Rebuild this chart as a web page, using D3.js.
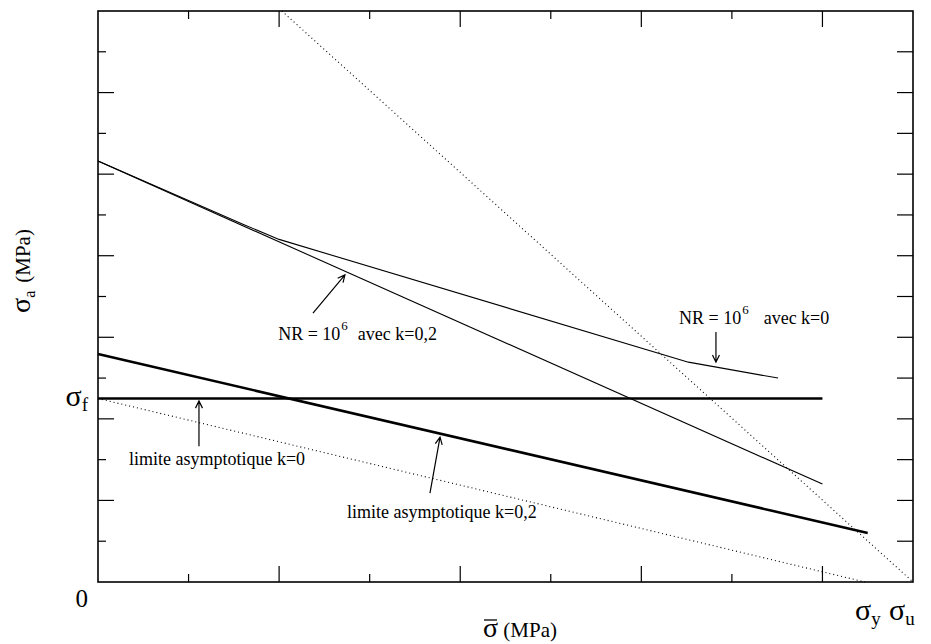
<!DOCTYPE html>
<html><head><meta charset="utf-8">
<script src="https://cdn.jsdelivr.net/npm/d3@7"></script>
<style>html,body{margin:0;padding:0;background:#fff;}</style>
</head>
<body>
<svg id="chart" width="931" height="644"></svg>
<script>
// ---- data (abstract units: x in 0..9, y in 0..14) ----
const xTicks = [0,1,2,3,4,5,6,7,8,9];
const yTicks = [0,1,2,3,4,5,6,7,8,9,10,11,12,13,14];
const sigmaF = 4.5;
const sigmaY = 8.47;
const sigmaU = 9;
const limitK0 = [[0, 4.5],[8, 4.5]];                 // thick horizontal
const limitK02 = [[0, 5.59],[8.5, 1.2]];              // thick sloped
const nrK02 = [[0, 10.32],[8, 2.40]];                 // thin
const nrK0 = [[0, 10.32],[1.6, 8.77],[2.0, 8.40],[6.52, 5.39],[7.51, 5.0]]; // thin
const dotK0 = [[0, 4.5],[8.47, 0]];                   // dotted
const dotU = [[2.03, 14],[9, 0]];                     // dotted

const FONT = '"Liberation Serif"';
const svg = d3.select("#chart");
const x = d3.scaleLinear().domain([0,9]).range([98,913]);
const y = d3.scaleLinear().domain([0,14]).range([582,11]);
const line = d3.line().x(d=>x(d[0])).y(d=>y(d[1]));
const txt = (px,py,size)=> svg.append("text").attr("x",px).attr("y",py).attr("font-size",size)
  .style("font-family",FONT).attr("fill","#000");

// frame
svg.append("rect").attr("x",x(0)).attr("y",y(14)).attr("width",x(9)-x(0)).attr("height",y(0)-y(14))
  .attr("fill","none").attr("stroke","#000").attr("stroke-width",1.6);

// ticks
const inner = (v)=> v%2===0 ? 16 : 8;
const g = svg.append("g").attr("stroke","#000").attr("stroke-width",1.2);
xTicks.filter(v=>v>0&&v<9).forEach(v=>{
  g.append("line").attr("x1",x(v)).attr("x2",x(v)).attr("y1",y(0)).attr("y2",y(0)-inner(v));
  g.append("line").attr("x1",x(v)).attr("x2",x(v)).attr("y1",y(14)).attr("y2",y(14)+inner(v));
});
yTicks.filter(v=>v>0&&v<14).forEach(v=>{
  g.append("line").attr("y1",y(v)).attr("y2",y(v)).attr("x1",x(0)).attr("x2",x(0)+inner(v));
  g.append("line").attr("y1",y(v)).attr("y2",y(v)).attr("x1",x(9)).attr("x2",x(9)-16);
});

// dotted lines
[dotK0, dotU].forEach(d=>{
  svg.append("path").attr("d",line(d)).attr("fill","none").attr("stroke","#000")
    .attr("stroke-width",1.1).attr("stroke-dasharray","1,3");
});
// thin lines
[nrK02, nrK0].forEach(d=>{
  svg.append("path").attr("d",line(d)).attr("fill","none").attr("stroke","#000").attr("stroke-width",1.1);
});
// thick lines
[limitK0, limitK02].forEach(d=>{
  svg.append("path").attr("d",line(d)).attr("fill","none").attr("stroke","#000").attr("stroke-width",2.6);
});

// arrows
function arrow(p0,p1){
  const x0=x(p0[0]), y0=y(p0[1]), x1=x(p1[0]), y1=y(p1[1]);
  const a=Math.atan2(y1-y0,x1-x0), L=8, h=0.45;
  svg.append("path").attr("d",
    `M${x0},${y0}L${x1},${y1}M${x1-L*Math.cos(a-h)},${y1-L*Math.sin(a-h)}L${x1},${y1}L${x1-L*Math.cos(a+h)},${y1-L*Math.sin(a+h)}`)
    .attr("fill","none").attr("stroke","#000").attr("stroke-width",1.2);
}
arrow([1.115,3.33],[1.115,4.44]);
arrow([3.666,2.18],[3.777,3.55]);
arrow([2.374,6.59],[2.727,7.53]);
arrow([6.824,6.13],[6.824,5.39]);

// annotation texts
const fs = 18;
txt(x(0.342), y(2.87), fs).text("limite asymptotique k=0");
txt(x(2.75), y(1.57), fs).text("limite asymptotique k=0,2");
function nrText(px,py,tail){
  const t=txt(x(px), y(py), fs);
  t.append("tspan").text("NR = 10");
  t.append("tspan").attr("font-size",13).attr("dy",-10).attr("dx",1).text("6");
  t.append("tspan").attr("dy",10).attr("dx",tail[0]).text("avec "+tail[1]);
}
nrText(1.99,5.93,[10,"k=0,2"]);
nrText(6.416,6.33,[15,"k=0"]);

// axis value labels
txt(88, y(0)+25, 25).attr("text-anchor","end").text("0");
function sigmaLabel(px,py,sub,anchor){
  const t=txt(px,py,30).attr("text-anchor",anchor||"start");
  t.append("tspan").text("σ");
  t.append("tspan").attr("font-size",19).attr("dy",5).text(sub);
}
sigmaLabel(x(0)-10, y(sigmaF)+8, "f", "end");
sigmaLabel(x(sigmaY)-10, 620, "y");
sigmaLabel(x(sigmaU)-24, 620, "u");

// axis titles
const xt = txt(483, 637, 21);
xt.append("tspan").attr("font-size",28).text("σ");
xt.append("tspan").text(" (MPa)");
svg.append("line").attr("x1",484).attr("x2",497).attr("y1",620).attr("y2",620).attr("stroke","#000").attr("stroke-width",1.3);

const yt = svg.append("text").attr("transform","translate(30,271) rotate(-90)").attr("text-anchor","middle")
  .attr("font-size",21).style("font-family",FONT);
yt.append("tspan").attr("font-size",28).text("σ");
yt.append("tspan").attr("font-size",16).attr("dy",5).text("a");
yt.append("tspan").attr("dy",-5).attr("dx",8).text("(MPa)");
</script>
</body></html>
